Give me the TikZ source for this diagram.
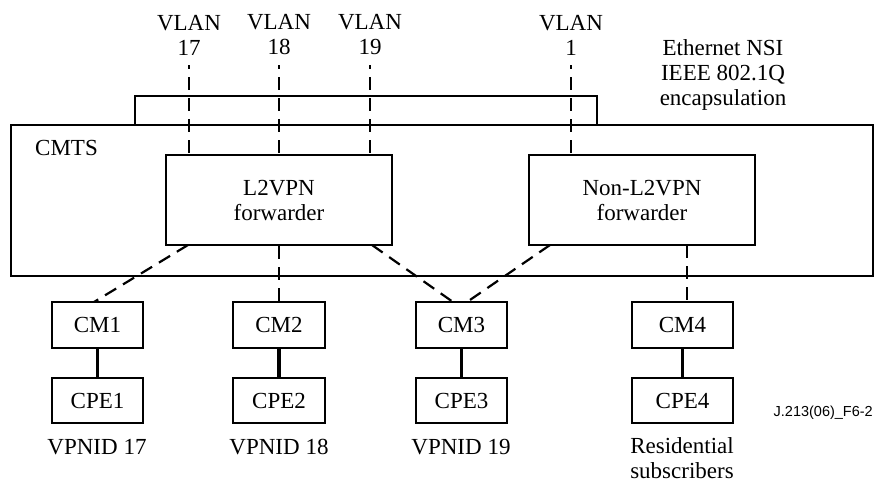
\documentclass[tikz,border=0pt]{standalone}
\usepackage{fontspec}
\setmainfont{Liberation Serif}
\newfontfamily\labelsans{Liberation Sans}
\begin{document}
\begin{tikzpicture}[x=1pt,y=-1pt,
  box/.style={draw,line width=2.3pt,rectangle,inner sep=0pt,align=center},
  lbl/.style={inner sep=0pt,align=center},
  link/.style={line width=2.2pt,dash pattern=on 13pt off 8pt},
  tie/.style={line width=3.4pt},
  every node/.style={font=\fontsize{23}{25}\selectfont}]
\useasboundingbox (0,0) rectangle (875,482);

% CMTS and the Ethernet NSI strip on top of it
\node[box,minimum width=462,minimum height=29] (nsi) at (366,110.5) {};
\node[box,minimum width=862,minimum height=151,fill=white] (cmts) at (442,200.5) {};
\node[lbl,anchor=west] (cmtslbl) at (35,148) {CMTS};
\node[lbl] (nsilbl) at (723,75) {Ethernet NSI\\IEEE 802.1Q\\encapsulation};

% forwarders
\node[box,minimum width=226,minimum height=90] (l2) at (279,200) {L2VPN\\forwarder};
\node[box,minimum width=226,minimum height=90] (nl2) at (642,200) {Non-L2VPN\\forwarder};

% VLAN labels and their trunk lines
\node[lbl] (v17) at (189,35) {VLAN\\17};
\node[lbl] (v18) at (279,35) {VLAN\\18};
\node[lbl] (v19) at (370,35) {VLAN\\19};
\node[lbl] (v1) at (571,35) {VLAN\\1};
\coordinate (t17) at (189,65);
\coordinate (t18) at (279,65);
\coordinate (t19) at (370,65);
\coordinate (t1) at (571,65);
\draw[link,dash phase=9pt] (t17) -- (t17 |- l2.north);
\draw[link,dash phase=9pt] (t18) -- (t18 |- l2.north);
\draw[link,dash phase=9pt] (t19) -- (t19 |- l2.north);
\draw[link,dash phase=9pt] (t1) -- (t1 |- nl2.north);

% cable modems and CPEs
\node[box,minimum width=91,minimum height=46] (cm1) at (97.5,325) {CM1};
\node[box,minimum width=92,minimum height=46] (cm2) at (279,325) {CM2};
\node[box,minimum width=91,minimum height=46] (cm3) at (461.5,325) {CM3};
\node[box,minimum width=101,minimum height=46] (cm4) at (682.5,325) {CM4};
\node[box,minimum width=91,minimum height=45] (cpe1) at (97.5,400.5) {CPE1};
\node[box,minimum width=92,minimum height=45] (cpe2) at (279,400.5) {CPE2};
\node[box,minimum width=91,minimum height=45] (cpe3) at (461.5,400.5) {CPE3};
\node[box,minimum width=101,minimum height=45] (cpe4) at (682.5,400.5) {CPE4};
\draw[tie] (cm1) -- (cpe1);
\draw[tie] (cm2) -- (cpe2);
\draw[tie] (cm3) -- (cpe3);
\draw[tie] (cm4) -- (cpe4);

% forwarder to modem links
\coordinate (a1) at (188,245);
\coordinate (a3) at (372,245);
\coordinate (b3) at (550,245);
\coordinate (b4) at (687,245);
\coordinate (m1) at (94,302);
\coordinate (m3a) at (453,302);
\coordinate (m3b) at (467,302);
\coordinate (m4) at (687,302);
\draw[link] (a1) -- (m1);
\draw[link] (l2.south) -- (cm2.north);
\draw[link] (a3) -- (m3a);
\draw[link] (b3) -- (m3b);
\draw[link] (b4) -- (m4);

% group labels
\node[lbl] (g17) at (97,447) {VPNID 17};
\node[lbl] (g18) at (279,447) {VPNID 18};
\node[lbl] (g19) at (461,447) {VPNID 19};
\node[lbl] (gres) at (682,458) {Residential\\subscribers};
\node[lbl,anchor=east,font=\labelsans\fontsize{14.5}{16}\selectfont] (ref) at (873,413) {J.213(06)\_F6-2};
\end{tikzpicture}
\end{document}
